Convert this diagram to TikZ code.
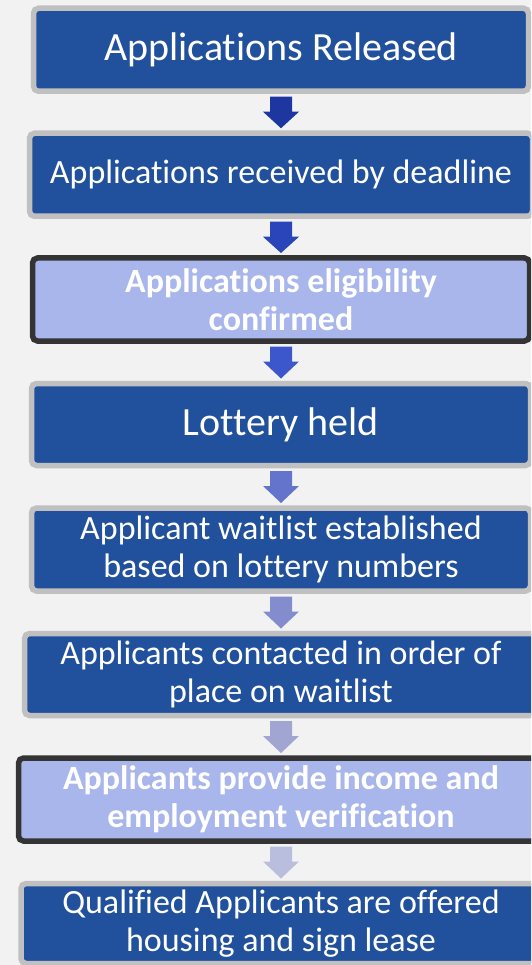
\documentclass[tikz,border=0pt]{standalone}
\usepackage{fontspec}
\setmainfont[RawFeature={-liga;-clig;-dlig;-calt}]{Carlito}
\usetikzlibrary{calc}

\definecolor{bgcolor}{RGB}{242,242,242}
\definecolor{boxblue}{RGB}{33,80,156}
\definecolor{boxlight}{RGB}{168,182,236}
\definecolor{boxgray}{RGB}{192,192,192}
\definecolor{boxdark}{RGB}{52,52,52}
\definecolor{arrA}{RGB}{30,55,160}
\definecolor{arrB}{RGB}{41,69,185}
\definecolor{arrC}{RGB}{60,86,204}
\definecolor{arrD}{RGB}{100,115,204}
\definecolor{arrE}{RGB}{131,141,206}
\definecolor{arrF}{RGB}{160,165,210}
\definecolor{arrG}{RGB}{185,190,222}

% block arrow from the bottom of one box to the top of the next
\newcommand{\flowarrow}[3]{%
  \fill[#3] ($(#1.south)+(-11,5.5)$) -- ++(22,0) -- ++(0,15) -- ++(7,0)
    -- ($(#2.north)+(0,-5)$) -- ($(#1.south)+(-18,20.5)$) -- ++(7,0) -- cycle;}

\begin{document}
\begin{tikzpicture}[x=1pt,y=-1pt,
    stepbox/.style={draw=boxgray,line width=5.5pt,fill=boxblue,rounded corners=5pt,
      text=white,align=center,inner sep=0pt,outer sep=0pt,minimum height=83pt,
      font=\fontsize{34}{37.6}\selectfont},
    bigtext/.style={font=\fontsize{40}{44}\selectfont},
    checkbox/.style={draw=boxdark,fill=boxlight,font=\fontsize{34}{37.6}\selectfont\bfseries}]
  \useasboundingbox (0,0) rectangle (531,965);
  \fill[bgcolor] (0,0) rectangle (531,965);
  \clip (0,0) rectangle (531,965);

  % the eight steps
  \node[stepbox,bigtext,minimum width=495pt] (released) at (281,49.75) {Applications Released};
  \node[stepbox,minimum width=503pt] (received) at (281,174.75) {Applications received by deadline};
  \node[stepbox,checkbox,minimum width=497pt] (eligible) at (281,299.5) {Applications eligibility\\confirmed};
  \node[stepbox,bigtext,minimum width=499pt,minimum height=82pt] (lottery) at (281,424.5) {Lottery held};
  \node[stepbox,minimum width=499pt] (waitlist) at (281,549.5) {Applicant waitlist established\\based on lottery numbers};
  \node[stepbox,minimum width=513pt,minimum height=82pt] (contacted) at (281,674.5) {Applicants contacted in order of\\place on waitlist};
  \node[stepbox,checkbox,minimum width=525pt] (verify) at (281,799.5) {Applicants provide income and\\employment verification};
  \node[stepbox,minimum width=520pt,minimum height=80pt] (lease) at (281,923.5) {Qualified Applicants are offered\\housing and sign lease};

  % arrows between them
  \flowarrow{released}{received}{arrA}
  \flowarrow{received}{eligible}{arrB}
  \flowarrow{eligible}{lottery}{arrC}
  \flowarrow{lottery}{waitlist}{arrD}
  \flowarrow{waitlist}{contacted}{arrE}
  \flowarrow{contacted}{verify}{arrF}
  \flowarrow{verify}{lease}{arrG}
\end{tikzpicture}
\end{document}
